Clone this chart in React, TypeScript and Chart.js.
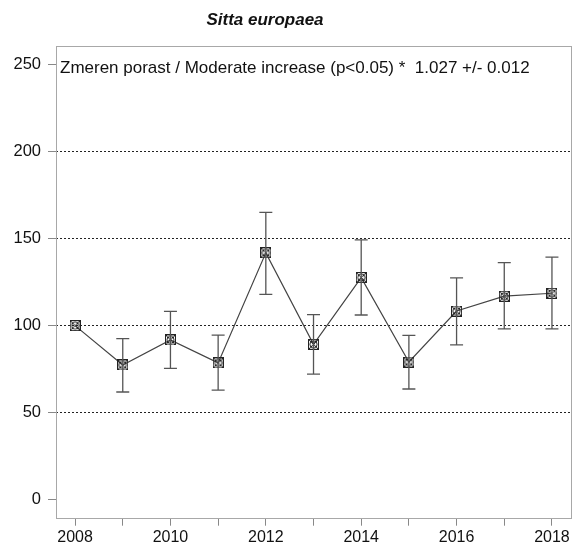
import React, { useEffect, useRef } from "react";
import { Chart, registerables } from "chart.js";

Chart.register(...registerables);

const TITLE = "Sitta europaea";
const NOTE = "Zmeren porast / Moderate increase (p<0.05) *  1.027 +/- 0.012";

const years = [2008, 2009, 2010, 2011, 2012, 2013, 2014, 2015, 2016, 2017, 2018];
const indexValues = [100, 77.4, 91.8, 78.6, 141.8, 89.3, 127.6, 79.1, 108.4, 116.9, 118.6];
const lowerValues = [100, 61.9, 75.5, 63.0, 118.0, 72.2, 106.1, 63.6, 88.9, 98.1, 98.1];
const upperValues = [100, 92.5, 108.2, 94.6, 165.1, 106.3, 149.2, 94.4, 127.4, 136.2, 139.3];

const yTicks = [0, 50, 100, 150, 200, 250];
const yGridValues = [50, 100, 150, 200];
const xLabelYears = [2008, 2010, 2012, 2014, 2016, 2018];

function makeMarker(): HTMLCanvasElement {
  const c = document.createElement("canvas");
  c.width = 11;
  c.height = 11;
  const g = c.getContext("2d")!;
  g.strokeStyle = "#222";
  g.lineWidth = 1;
  g.strokeRect(0.5, 0.5, 10, 10);
  g.beginPath();
  g.moveTo(1, 1);
  g.lineTo(10, 10);
  g.moveTo(10, 1);
  g.lineTo(1, 10);
  g.stroke();
  g.beginPath();
  g.arc(5.5, 5.5, 3.6, 0, Math.PI * 2);
  g.stroke();
  return c;
}

const noPadding = () => ({ left: 0, top: 0, right: 0, bottom: 0 });

const widenPlugin = {
  id: "widen",
  afterLayout(chart: any) {
    const target = chart.width - 1.5;
    const ca = chart.chartArea;
    if (!ca || ca.right >= target) return;
    ca.right = target;
    ca.width = target - ca.left;
    const x = chart.scales.x;
    x.right = target;
    x.width = target - x.left;
    x.configure();
    x._gridLineItems = null;
    x._labelItems = null;
    const y = chart.scales.y;
    y._gridLineItems = null;
    y._labelItems = null;
  },
  beforeDraw(chart: any) {
    const x = chart.scales.x;
    const y = chart.scales.y;
    x._gridLineItems = null;
    x._labelItems = null;
    y._gridLineItems = null;
    y._labelItems = null;
  },
};

const errorBarPlugin = {
  id: "errorBars",
  afterDatasetsDraw(chart: any) {
    const { ctx, scales } = chart;
    const x = scales.x;
    const y = scales.y;
    ctx.save();
    ctx.strokeStyle = "#555";
    ctx.lineWidth = 1.3;
    years.forEach((yr, i) => {
      if (lowerValues[i] === upperValues[i]) return;
      const px = x.getPixelForValue(yr);
      const pl = y.getPixelForValue(lowerValues[i]);
      const pu = y.getPixelForValue(upperValues[i]);
      ctx.beginPath();
      ctx.moveTo(px, pl);
      ctx.lineTo(px, pu);
      ctx.moveTo(px - 6.5, pl);
      ctx.lineTo(px + 6.5, pl);
      ctx.moveTo(px - 6.5, pu);
      ctx.lineTo(px + 6.5, pu);
      ctx.stroke();
    });
    ctx.restore();
  },
};

const framePlugin = {
  id: "frame",
  afterDraw(chart: any) {
    const { ctx, chartArea } = chart;
    ctx.save();
    ctx.strokeStyle = "#a8a8a8";
    ctx.lineWidth = 1;
    ctx.strokeRect(
      Math.round(chartArea.left) + 0.5,
      Math.round(chartArea.top) + 0.5,
      Math.round(chartArea.right - chartArea.left) - 1,
      Math.round(chartArea.bottom - chartArea.top)
    );
    ctx.fillStyle = "#111";
    ctx.font = "bold italic 17px 'Liberation Sans', Arial, sans-serif";
    ctx.textAlign = "center";
    ctx.textBaseline = "middle";
    ctx.fillText(TITLE, 265, 20);
    ctx.font = "17px 'Liberation Sans', Arial, sans-serif";
    ctx.textAlign = "left";
    ctx.fillText(NOTE, chartArea.left + 4, 68);
    ctx.restore();
  },
};

export default function App() {
  const ref = useRef<HTMLCanvasElement | null>(null);
  useEffect(() => {
    if (!ref.current) return;
    const marker = makeMarker();
    const chart = new Chart(ref.current, {
      type: "scatter",
      data: {
        datasets: [
          {
            data: years.map((yr, i) => ({ x: yr, y: indexValues[i] })),
            showLine: true,
            borderColor: "#444",
            borderWidth: 1.2,
            pointStyle: marker as any,
            pointRadius: 5,
          },
        ],
      },
      options: {
        animation: false,
        responsive: false,
        devicePixelRatio: 1,
        layout: { padding: { top: 46, right: 1.5, left: 0, bottom: 0 } },
        plugins: { legend: { display: false }, title: { display: false }, tooltip: { enabled: false } },
        scales: {
          x: {
            type: "linear",
            min: 2007.6,
            max: 2018.41,
            afterBuildTicks: (s: any) => {
              s.ticks = years.map((v) => ({ value: v }));
            },
            afterFit: (s: any) => {
              s.height = 29.3;
              s.paddingLeft = 0;
              s.paddingRight = 0;
              s.getPadding = noPadding;
            },
            ticks: {
              autoSkip: false,
              maxRotation: 0,
              padding: 2,
              color: "#111",
              font: { family: "'Liberation Sans', Arial, sans-serif", size: 16 },
              callback: (v: any) => (xLabelYears.includes(v) ? String(v) : ""),
            },
            grid: { drawOnChartArea: false, tickLength: 8, tickColor: "#888", color: "#888" },
            border: { display: false },
          },
          y: {
            type: "linear",
            min: -10.3,
            max: 260.6,
            afterBuildTicks: (s: any) => {
              s.ticks = yTicks.map((v) => ({ value: v }));
            },
            afterFit: (s: any) => {
              s.width = 56;
              s.paddingTop = 0;
              s.paddingBottom = 0;
              s.getPadding = noPadding;
            },
            ticks: {
              padding: 7,
              color: "#111",
              font: { family: "'Liberation Sans', Arial, sans-serif", size: 16.5 },
            },
            grid: {
              tickLength: 8,
              tickColor: "#888",
              color: (c: any) => (c.tick && yGridValues.includes(c.tick.value) ? "#222" : "rgba(0,0,0,0)"),
              lineWidth: 1,
            },
            border: { display: false, dash: [2, 2] },
          },
        },
      },
      plugins: [widenPlugin, errorBarPlugin, framePlugin],
    });
    return () => chart.destroy();
  }, []);
  return (
    <div style={{ position: "absolute", left: 0, top: 0, width: 573, height: 547, background: "#fff" }}>
      <canvas ref={ref} width={573} height={547} />
    </div>
  );
}
